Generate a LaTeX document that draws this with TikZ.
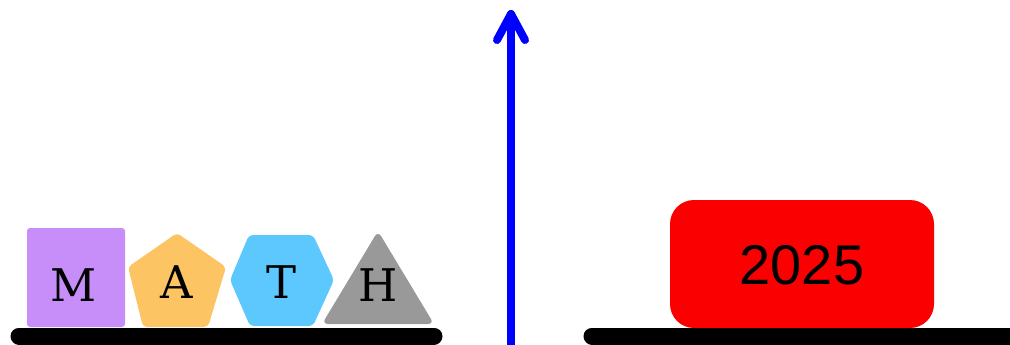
\documentclass[tikz,border=0pt]{standalone}
\usepackage{fontspec}
\newfontfamily\serifletters{DejaVu Serif}
\newfontfamily\sansnum{Liberation Sans}
\definecolor{mpurple}{HTML}{C78DF8}
\definecolor{morange}{HTML}{FDC463}
\definecolor{mblue}{HTML}{5CC8FD}
\definecolor{mgray}{HTML}{999999}
\definecolor{mred}{HTML}{FA0000}
\tikzset{
  bar/.style={line width=17pt, line cap=round, black},
  shapefill/.style={rounded corners=4pt},
  letter/.style={font=\serifletters\fontsize{45}{45}\selectfont, inner sep=0pt, text=black},
  yearlbl/.style={font=\sansnum\fontsize{56}{56}\selectfont, inner sep=0pt, text=black},
  axisarrow/.style={line width=8pt, blue, line cap=round, line join=round}
}
\begin{document}
\begin{tikzpicture}[x=1pt,y=-1pt]
\useasboundingbox (0,0) rectangle (1010,345);
% ground bars
\coordinate (lb1) at (19,336);
\coordinate (lb2) at (434,336);
\coordinate (rb1) at (592,336);
\coordinate (rb2) at (1030,336);
\draw[bar] (lb1) -- (lb2);
\draw[bar] (rb1) -- (rb2);
% shapes
\fill[mpurple, rounded corners=3pt] (27,228) rectangle (125,327);
\fill[morange, shapefill] (177,233) -- (226,267) -- (208,327) -- (143,327) -- (128,267) -- cycle;
\fill[mblue, shapefill] (249,235) -- (313,235) -- (334,280) -- (313,326) -- (250,326) -- (230,280) -- cycle;
\fill[mgray, rounded corners=6pt] (378,231) -- (434,324) -- (322,324) -- cycle;
% letters
\node[letter] (m) at (74,285) {M};
\node[letter] (a) at (177,282) {A};
\node[letter] (t) at (282,282) {T};
\node[letter] (h) at (378,285) {H};
% arrow
\coordinate (abot) at (511,345);
\coordinate (atip) at (511,14);
\coordinate (al) at (497,40);
\coordinate (ar) at (525,40);
\draw[axisarrow] (abot) -- (atip);
\draw[axisarrow] (al) -- (atip) -- (ar);
% red box
\fill[mred, rounded corners=24pt] (670,200) rectangle (934,328);
\node[yearlbl] (year) at (802,265) {2025};
\end{tikzpicture}
\end{document}
